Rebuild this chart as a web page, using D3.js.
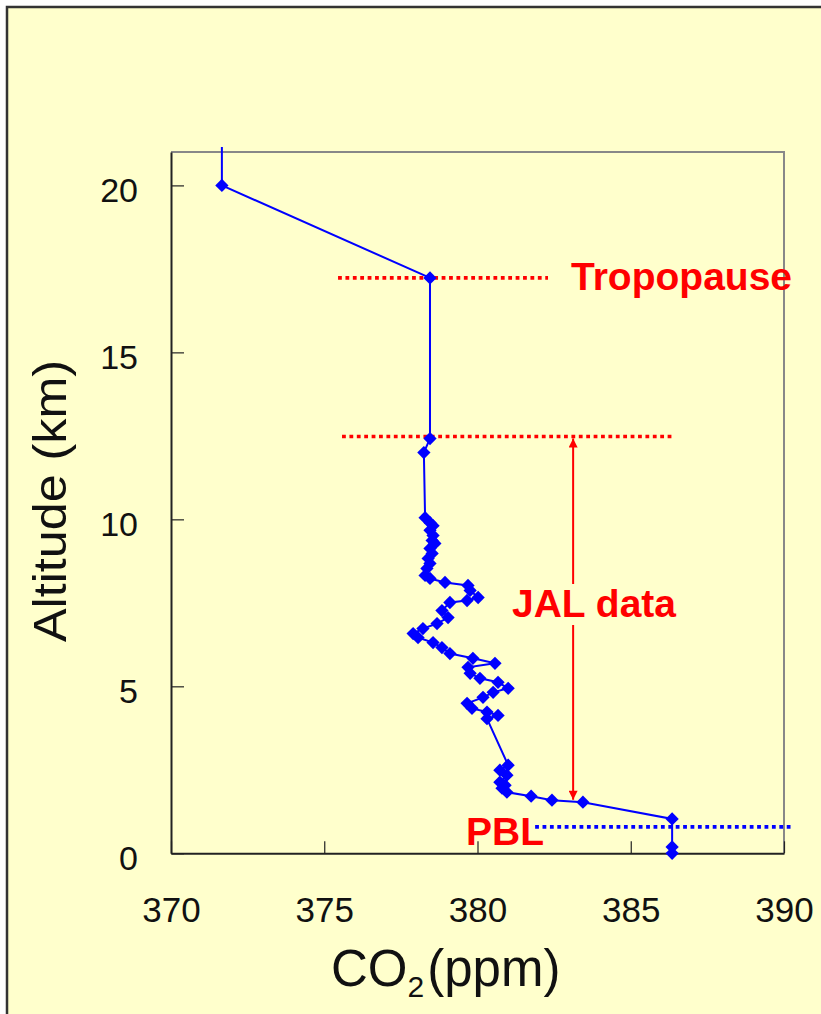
<!DOCTYPE html>
<html>
<head>
<meta charset="utf-8">
<script src="https://cdn.jsdelivr.net/npm/d3@7"></script>
<style>
  body { margin: 0; background: #fff; }
  svg { display: block; font-family: "Liberation Sans", Arial, sans-serif; }
</style>
</head>
<body>
<svg id="chart" width="821" height="1014"></svg>
<script>
// CO2 profile (ppm, km), top to bottom
var co2 = [371.66, 371.66, 378.45, 378.45, 378.25, 378.29,
  378.45, 378.55, 378.45, 378.55, 378.52, 378.61, 378.45, 378.52, 378.39, 378.45,
  378.35, 378.29, 378.45, 378.94, 379.69, 379.76, 380.02, 379.66, 379.10, 378.84,
  379.04, 378.68, 378.22, 377.90, 378.06, 378.55, 378.84, 379.10, 379.85, 380.57,
  379.69, 379.76, 380.08, 380.67, 381.00, 380.51, 380.18, 379.66, 379.82, 380.31,
  380.67, 380.31, 381.00, 380.73, 380.96, 380.73, 380.90, 380.80, 380.96, 381.75,
  382.43, 383.44, 386.35, 386.35, 386.35];
var altitude = [21.15, 20.0, 17.23, 12.42, 12.0, 10.05,
  9.90, 9.81, 9.67, 9.52, 9.37, 9.28, 9.13, 8.98, 8.83, 8.68,
  8.53, 8.32, 8.23, 8.11, 8.02, 7.87, 7.66, 7.57, 7.51, 7.27,
  7.06, 6.88, 6.73, 6.58, 6.46, 6.31, 6.16, 5.98, 5.84, 5.69,
  5.57, 5.39, 5.24, 5.12, 4.94, 4.82, 4.67, 4.49, 4.34, 4.23,
  4.13, 4.03, 2.64, 2.49, 2.34, 2.13, 2.04, 1.95, 1.83, 1.71,
  1.59, 1.53, 1.03, 0.19, 0.0];

var xTicks = [370, 375, 380, 385, 390];
var yTicks = [0, 5, 10, 15, 20];

// annotation lines (data units)
var tropopause = {alt: 17.23, from: 375.45, to: 382.3};
var jalTop = {alt: 12.48, from: 375.58, to: 386.44};
var pbl = {alt: 0.79, from: 381.88, to: 390.26};
var jalArrow = {x: 383.12, top: 12.42, bottom: 1.6};

var bg = "#ffffcc";
var svg = d3.select("#chart");

// outer frame
svg.append("rect").attr("x", 7).attr("y", 7).attr("width", 830).attr("height", 1020)
  .attr("fill", bg).attr("stroke", "#333").attr("stroke-width", 2.5);

var pLeft = 171, pRight = 784, pTop = 152, pBottom = 853.3;
var x = d3.scaleLinear().domain([370, 390]).range([pLeft, pRight]);
var y = d3.scaleLinear().domain([0, 21]).range([pBottom, pTop]);

// plot box top/right in gray
svg.append("path")
  .attr("d", "M" + pLeft + "," + pTop + "H" + pRight + "V" + pBottom)
  .attr("fill", "none").attr("stroke", "#888").attr("stroke-width", 2);

var xAxis = svg.append("g").attr("transform", "translate(0," + pBottom + ")")
  .call(d3.axisBottom(x).tickValues(xTicks).tickSizeInner(-12).tickSizeOuter(0).tickPadding(44));
var yAxis = svg.append("g").attr("transform", "translate(" + pLeft + ",0)")
  .call(d3.axisLeft(y).tickValues(yTicks).tickSizeInner(-13).tickSizeOuter(0).tickPadding(33));

[xAxis, yAxis].forEach(function (g) {
  g.select(".domain").attr("stroke", "#222").attr("stroke-width", 2);
  g.selectAll(".tick line").attr("stroke", "#222").attr("stroke-width", 1.2);
  g.selectAll(".tick text").attr("fill", "#111").style("font-size", "35px")
    .style("font-family", "'Liberation Sans', Arial, sans-serif");
});
yAxis.selectAll(".tick text").attr("dy", "0.47em").style("font-size", "34px");

// axis titles
svg.append("text")
  .attr("transform", "translate(66,501) rotate(-90)")
  .attr("text-anchor", "middle")
  .attr("textLength", 282).attr("lengthAdjust", "spacingAndGlyphs")
  .style("font-size", "46px").attr("fill", "#111")
  .text("Altitude (km)");

var xt = svg.append("text").attr("x", 331).attr("y", 986)
  .style("font-size", "51px").attr("fill", "#111");
xt.append("tspan").text("CO");
xt.append("tspan").attr("dy", 11).style("font-size", "30px").text("2");
xt.append("tspan").attr("dy", -11).attr("dx", 3).text("(ppm)");

// dotted guide lines
function guide(d, color) {
  svg.append("line")
    .attr("x1", x(d.from)).attr("x2", x(d.to))
    .attr("y1", y(d.alt)).attr("y2", y(d.alt))
    .attr("stroke", color).attr("stroke-width", 3.6)
    .attr("stroke-dasharray", "3.8,3.6");
}
guide(tropopause, "#ff0000");
guide(jalTop, "#ff0000");

// JAL arrow
var defs = svg.append("defs");
defs.append("marker").attr("id", "ah").attr("viewBox", "0 0 10 10")
  .attr("refX", 10).attr("refY", 5).attr("markerWidth", 10).attr("markerHeight", 9)
  .attr("markerUnits", "userSpaceOnUse").attr("orient", "auto-start-reverse")
  .append("path").attr("d", "M0,0L10,5L0,10Z").attr("fill", "#ff0000");

svg.append("line")
  .attr("x1", x(jalArrow.x)).attr("x2", x(jalArrow.x))
  .attr("y1", y(jalArrow.top)).attr("y2", y(jalArrow.bottom))
  .attr("stroke", "#ff0000").attr("stroke-width", 2)
  .attr("marker-start", "url(#ah)").attr("marker-end", "url(#ah)");

// profile line and markers
var pts = co2.map(function (c, i) { return {c: c, a: altitude[i]}; });
var line = d3.line().x(function (d) { return x(d.c); }).y(function (d) { return y(d.a); });

svg.append("path").datum(pts)
  .attr("d", line).attr("fill", "none")
  .attr("stroke", "#0000ff").attr("stroke-width", 2);

svg.selectAll(".pt").data(pts.filter(function (d) { return d.a <= 21; }))
  .enter().append("path").attr("class", "pt")
  .attr("d", d3.symbol().type(d3.symbolSquare).size(88))
  .attr("transform", function (d) { return "translate(" + x(d.c) + "," + y(d.a) + ") rotate(45)"; })
  .attr("fill", "#0000ff");

guide(pbl, "#0000ff");

// labels
function label(txt, px, py, withBg) {
  var t = svg.append("text").attr("x", px).attr("y", py)
    .attr("fill", "#ff0000").style("font-size", "39px").style("font-weight", "bold")
    .text(txt);
  if (withBg) {
    var b = t.node().getBBox();
    svg.insert("rect", function () { return t.node(); })
      .attr("x", b.x - 2).attr("y", b.y + 2).attr("width", b.width + 4).attr("height", b.height - 2)
      .attr("fill", bg);
  }
}
label("Tropopause", 571, 290, false);
label("JAL data", 512, 617, true);
label("PBL", 466, 845, false);
</script>
</body>
</html>
